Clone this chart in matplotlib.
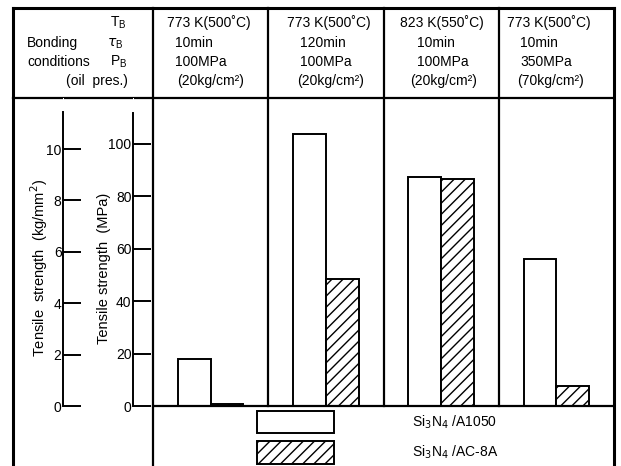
import matplotlib
matplotlib.use("Agg")
import matplotlib.pyplot as plt
import numpy as np
from matplotlib.patches import Rectangle

plt.rcParams["font.family"] = ["Liberation Sans", "DejaVu Sans"]
plt.rcParams["hatch.linewidth"] = 1.0

# data (MPa)
groups = ["773K 10min 100MPa", "773K 120min 100MPa", "823K 10min 100MPa", "773K 10min 350MPa"]
a1050 = [18, 104, 87.5, 56]
ac8a = [0.6, 48.5, 86.5, 7.6]
series_names = ["Si$_3$N$_4$ /A1050", "Si$_3$N$_4$ /AC-8A"]

temps = ["773 K(500\u02daC)", "773 K(500\u02daC)", "823 K(550\u02daC)", "773 K(500\u02daC)"]
times = ["10min", "120min", "10min", "10min"]
press = ["100MPa", "100MPa", "100MPa", "350MPa"]
oil = ["(20kg/cm\u00b2)", "(20kg/cm\u00b2)", "(20kg/cm\u00b2)", "(70kg/cm\u00b2)"]

mpa_ticks = [0, 20, 40, 60, 80, 100]
kg_ticks = [0, 2, 4, 6, 8, 10]

W, H = 621, 466
fig = plt.figure(figsize=(W / 100, H / 100), dpi=100)

def fx(px):
    return px / W

def fy(py):
    return 1 - py / H

base_y, top_y = 406, 98
px_per_mpa = 2.62
ymax = (base_y - top_y) / px_per_mpa

# background axes in pixel coords for the table frame and header text
bg = fig.add_axes([0, 0, 1, 1])
bg.set_xlim(0, W)
bg.set_ylim(H, 0)
bg.axis("off")

lw = 1.6
bg.plot([13, 13], [8, H], color="black", lw=2.2)
bg.plot([614, 614], [8, H], color="black", lw=2.2)
bg.plot([13, 614], [8, 8], color="black", lw=2.2)
bg.plot([13, 614], [98, 98], color="black", lw=lw)
bg.plot([153, 153], [8, H], color="black", lw=lw)
panel_w = (614 - 153) / 4
for i in range(1, 4):
    xp = 153 + i * panel_w
    bg.plot([xp, xp], [8, base_y], color="black", lw=lw)

fs = 10
row_y = [27, 47, 66, 85]
bg.text(110, row_y[0], "T$_\\mathregular{B}$", fontsize=fs)
bg.text(27, row_y[1], "Bonding", fontsize=fs)
bg.text(107, row_y[1], "$\\tau_\\mathregular{B}$", fontsize=fs)
bg.text(27, row_y[2], "conditions", fontsize=fs)
bg.text(110, row_y[2], "P$_\\mathregular{B}$", fontsize=fs)
bg.text(66, row_y[3], "(oil  pres.)", fontsize=fs)

col_x = [[167, 175, 175, 177], [287, 300, 300, 297], [400, 417, 417, 410], [507, 520, 520, 517]]
for i in range(4):
    for j, s in enumerate([temps[i], times[i], press[i], oil[i]]):
        bg.text(col_x[i][j], row_y[j], s, fontsize=fs)

# bars
ax = fig.add_axes([fx(153), fy(base_y), fx(614 - 153), (base_y - top_y) / H])
ax.set_xlim(0, 4)
ax.set_ylim(0, ymax)
ax.axis("off")
x = np.arange(len(groups)) + 0.5
w = 0.285
ax.bar(x - w / 2, a1050, w, color="white", edgecolor="black", linewidth=1.4)
ax.bar(x + w / 2, ac8a, w, color="white", edgecolor="black", linewidth=1.4, hatch="///")
ax.axhline(0, color="black", lw=lw, clip_on=False)

# MPa axis
ax_m = fig.add_axes([fx(133), fy(base_y), 0.001, (base_y - top_y) / H])
ax_m.set_ylim(0, ymax)
for s in ["top", "right", "bottom"]:
    ax_m.spines[s].set_visible(False)
ax_m.spines["left"].set_bounds(0, 112)
ax_m.spines["left"].set_linewidth(1.4)
ax_m.set_xticks([])
ax_m.set_yticks(mpa_ticks)
ax_m.tick_params(axis="y", direction="in", length=13, width=1.4, labelsize=10, pad=1)

# kg/mm2 axis
kg_max = ymax / 9.807
ax_k = fig.add_axes([fx(63), fy(base_y), 0.001, (base_y - top_y) / H])
ax_k.set_ylim(0, kg_max)
for s in ["top", "right", "bottom"]:
    ax_k.spines[s].set_visible(False)
ax_k.spines["left"].set_bounds(0, 11.45)
ax_k.spines["left"].set_linewidth(1.4)
ax_k.set_xticks([])
ax_k.set_yticks(kg_ticks)
ax_k.tick_params(axis="y", direction="in", length=13, width=1.4, labelsize=10, pad=1)

bg.text(39, 268, "Tensile  strength  (kg/mm$^2$)", fontsize=10.5, rotation=90,
        ha="center", va="center")
bg.text(104, 268, "Tensile strength  (MPa)", fontsize=10.5, rotation=90,
        ha="center", va="center")

# legend row
bg.add_patch(Rectangle((257, 411), 77, 22, facecolor="white", edgecolor="black", lw=1.4))
bg.add_patch(Rectangle((257, 441), 77, 23, facecolor="white", edgecolor="black", lw=1.4, hatch="///"))
bg.text(412, 422, series_names[0], fontsize=fs, va="center")
bg.text(412, 452, series_names[1], fontsize=fs, va="center")

fig.savefig("out.png", dpi=100)
